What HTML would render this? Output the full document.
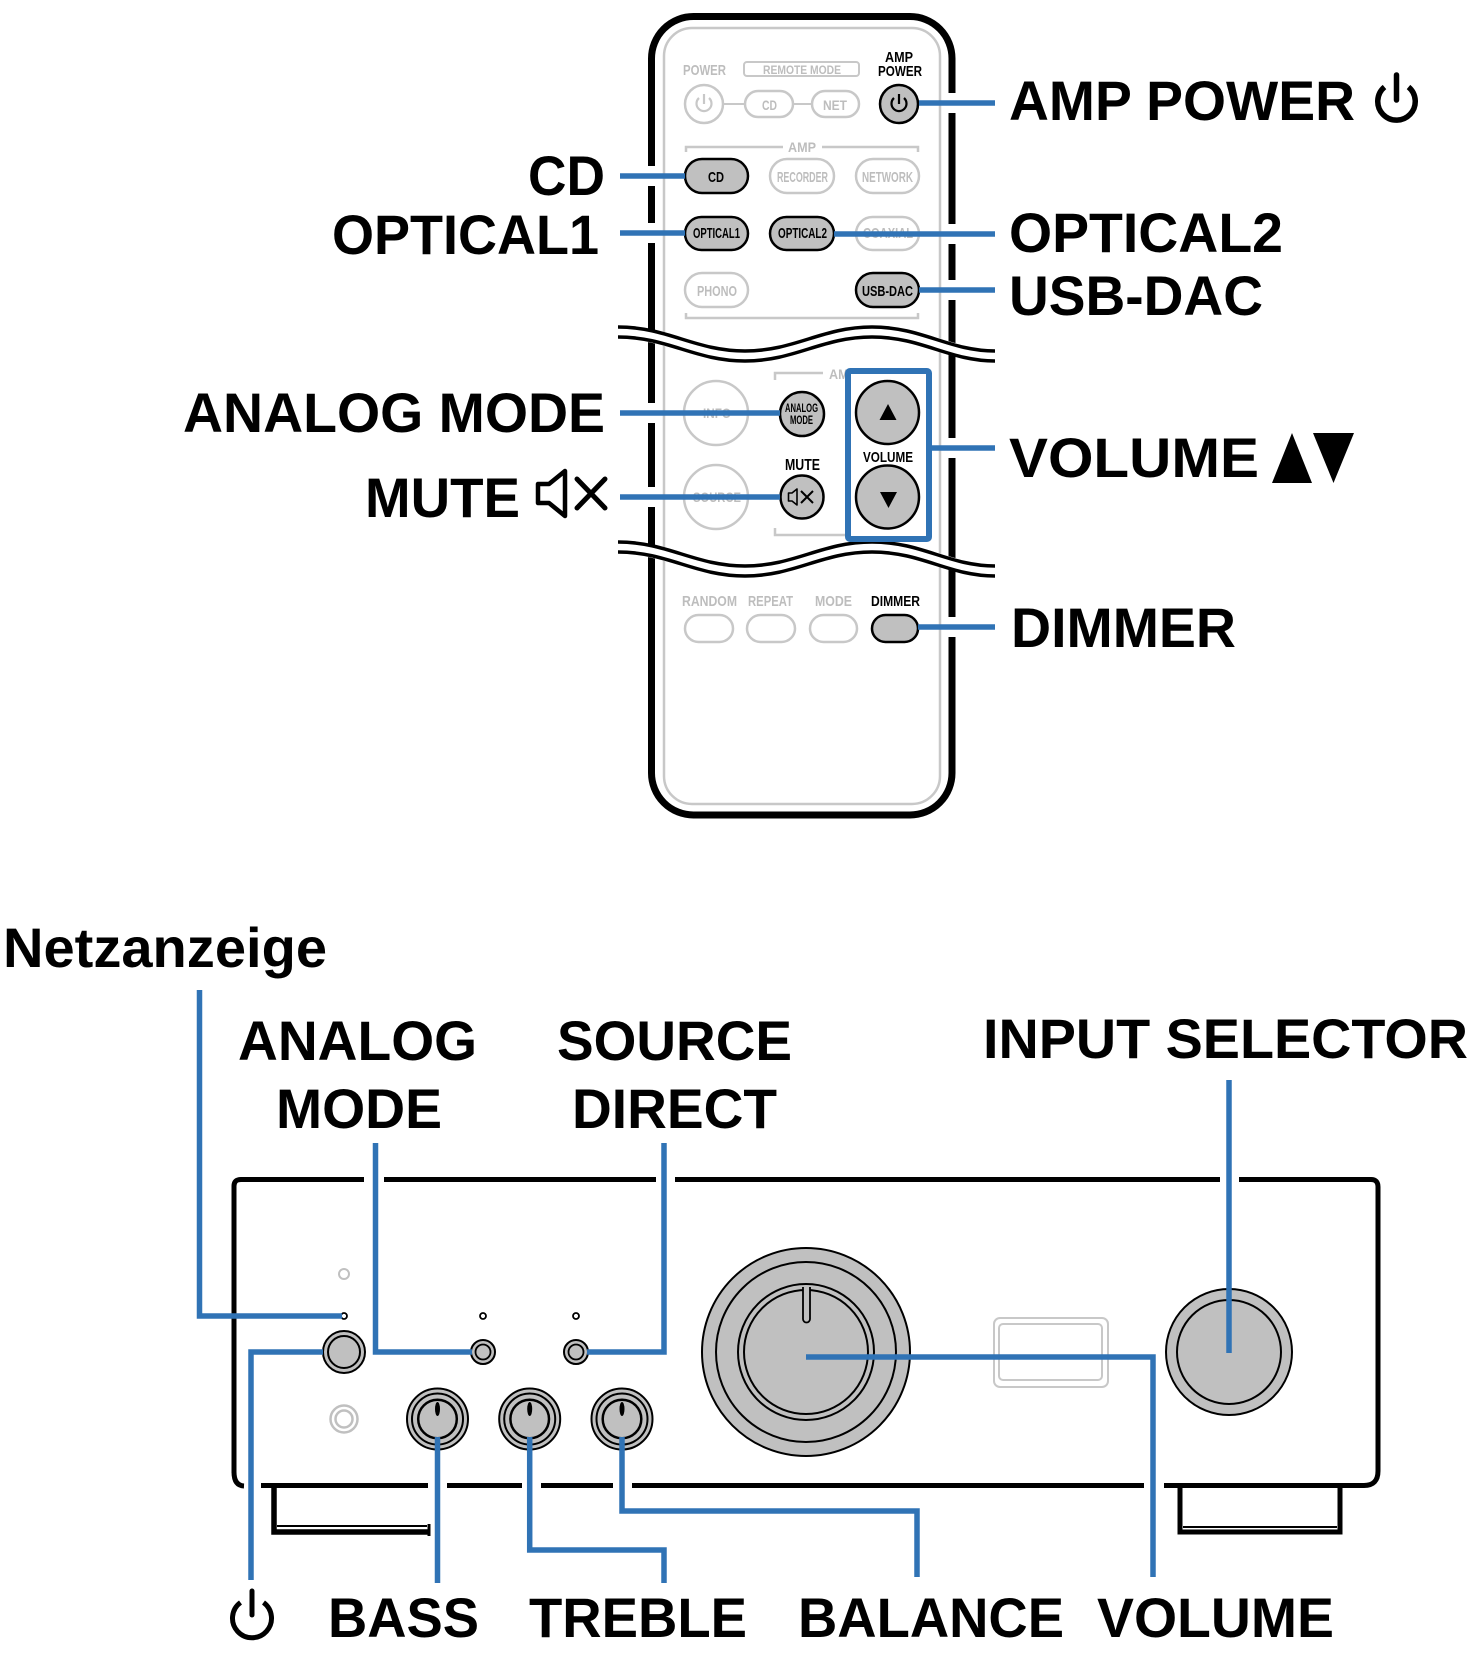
<!DOCTYPE html>
<html>
<head>
<meta charset="utf-8">
<style>
  html,body{margin:0;padding:0;background:#fff;}
  svg{display:block;}
  text{font-family:"Liberation Sans",Arial,sans-serif;font-weight:bold;}
  .big{font-size:56px;fill:#000;}
  .sm{fill:#000;}
  .gr{fill:#bdbdbd;}
</style>
</head>
<body>
<svg width="1471" height="1671" viewBox="0 0 1471 1671" xmlns="http://www.w3.org/2000/svg">
  <rect x="0" y="0" width="1471" height="1671" fill="#fff"/>

  <!-- ================= REMOTE ================= -->
  <rect x="651.5" y="16.5" width="300.5" height="798.5" rx="42" fill="#fff" stroke="#000" stroke-width="7"/>
  <rect x="664" y="28" width="276" height="776" rx="28" fill="none" stroke="#c8c8c8" stroke-width="2.5"/>

  <!-- top row -->
  <text x="683" y="75" class="gr" font-size="15" textLength="43" lengthAdjust="spacingAndGlyphs">POWER</text>
  <rect x="744" y="62" width="115" height="14" rx="3" fill="none" stroke="#c8c8c8" stroke-width="2"/>
  <text x="763" y="74" class="gr" font-size="12" textLength="78" lengthAdjust="spacingAndGlyphs">REMOTE MODE</text>
  <text x="885" y="62" class="sm" font-size="15" textLength="28" lengthAdjust="spacingAndGlyphs">AMP</text>
  <text x="878" y="76" class="sm" font-size="15" textLength="44" lengthAdjust="spacingAndGlyphs">POWER</text>

  <line x1="723" y1="104" x2="745" y2="104" stroke="#c8c8c8" stroke-width="2"/>
  <line x1="793" y1="104" x2="812" y2="104" stroke="#c8c8c8" stroke-width="2"/>
  <circle cx="704" cy="104" r="19" fill="#fff" stroke="#c8c8c8" stroke-width="2.5"/>
  <path d="M699 98 A7.5 7.5 0 1 0 709 98" fill="none" stroke="#c8c8c8" stroke-width="2.2"/>
  <line x1="704" y1="94" x2="704" y2="104" stroke="#c8c8c8" stroke-width="2.2"/>
  <rect x="745" y="91" width="48" height="26" rx="13" fill="#fff" stroke="#c8c8c8" stroke-width="2.5"/>
  <text x="762" y="110" class="gr" font-size="14" textLength="15" lengthAdjust="spacingAndGlyphs">CD</text>
  <rect x="812" y="91" width="47" height="26" rx="13" fill="#fff" stroke="#c8c8c8" stroke-width="2.5"/>
  <text x="823" y="110" class="gr" font-size="14" textLength="24" lengthAdjust="spacingAndGlyphs">NET</text>

  <circle cx="899" cy="104" r="19" fill="#c0c0c0" stroke="#000" stroke-width="2.5"/>
  <path d="M894 98 A7.5 7.5 0 1 0 904 98" fill="none" stroke="#000" stroke-width="2.2"/>
  <line x1="899" y1="94" x2="899" y2="104" stroke="#000" stroke-width="2.2"/>

  <!-- AMP bracket -->
  <path d="M686 152 V147 H783 M822 147 H918 V152" fill="none" stroke="#c8c8c8" stroke-width="2.5"/>
  <text x="788" y="152" class="gr" font-size="14" textLength="28" lengthAdjust="spacingAndGlyphs">AMP</text>

  <!-- row 1 -->
  <rect x="685" y="159" width="63" height="34" rx="17" fill="#c0c0c0" stroke="#000" stroke-width="2.5"/>
  <text x="708" y="182" class="sm" font-size="15" textLength="16" lengthAdjust="spacingAndGlyphs">CD</text>
  <rect x="770" y="159" width="64" height="34" rx="17" fill="#fff" stroke="#c8c8c8" stroke-width="2.5"/>
  <text x="777" y="182" class="gr" font-size="15" textLength="51" lengthAdjust="spacingAndGlyphs">RECORDER</text>
  <rect x="856" y="159" width="63" height="34" rx="17" fill="#fff" stroke="#c8c8c8" stroke-width="2.5"/>
  <text x="862" y="182" class="gr" font-size="15" textLength="51" lengthAdjust="spacingAndGlyphs">NETWORK</text>

  <!-- row 2 -->
  <rect x="685" y="217" width="63" height="33" rx="16.5" fill="#c0c0c0" stroke="#000" stroke-width="2.5"/>
  <text x="693" y="238" class="sm" font-size="15" textLength="47" lengthAdjust="spacingAndGlyphs">OPTICAL1</text>
  <rect x="770" y="217" width="64" height="33" rx="16.5" fill="#c0c0c0" stroke="#000" stroke-width="2.5"/>
  <text x="778" y="238" class="sm" font-size="15" textLength="49" lengthAdjust="spacingAndGlyphs">OPTICAL2</text>
  <rect x="856" y="217" width="63" height="33" rx="16.5" fill="#fff" stroke="#c8c8c8" stroke-width="2.5"/>
  <text x="863" y="238" class="gr" font-size="15" textLength="50" lengthAdjust="spacingAndGlyphs">COAXIAL</text>

  <!-- row 3 -->
  <rect x="685" y="273" width="63" height="34" rx="17" fill="#fff" stroke="#c8c8c8" stroke-width="2.5"/>
  <text x="697" y="296" class="gr" font-size="15" textLength="40" lengthAdjust="spacingAndGlyphs">PHONO</text>
  <rect x="856" y="273" width="63" height="34" rx="17" fill="#c0c0c0" stroke="#000" stroke-width="2.5"/>
  <text x="862" y="296" class="sm" font-size="15" textLength="51" lengthAdjust="spacingAndGlyphs">USB-DAC</text>

  <path d="M686 313 V318 H918 V313" fill="none" stroke="#c8c8c8" stroke-width="2.5"/>

  <!-- middle section -->
  <path d="M775 380 V373 H823" fill="none" stroke="#c8c8c8" stroke-width="2.5"/>
  <text x="829" y="379" class="gr" font-size="14" textLength="28" lengthAdjust="spacingAndGlyphs">AMP</text>
  <path d="M775 528 V535 H845" fill="none" stroke="#c8c8c8" stroke-width="2.5"/>

  <circle cx="716" cy="413" r="32" fill="#fff" stroke="#c8c8c8" stroke-width="2.5"/>
  <text x="703" y="418" class="gr" font-size="14" textLength="28" lengthAdjust="spacingAndGlyphs">INFO</text>
  <circle cx="716" cy="497" r="32" fill="#fff" stroke="#c8c8c8" stroke-width="2.5"/>
  <text x="693" y="502" class="gr" font-size="14" textLength="48" lengthAdjust="spacingAndGlyphs">SOURCE</text>

  <circle cx="802" cy="414" r="22" fill="#c0c0c0" stroke="#000" stroke-width="2.5"/>
  <text x="785" y="412" class="sm" font-size="12" textLength="33" lengthAdjust="spacingAndGlyphs">ANALOG</text>
  <text x="790" y="424" class="sm" font-size="12" textLength="23" lengthAdjust="spacingAndGlyphs">MODE</text>

  <text x="785" y="470" class="sm" font-size="16" textLength="35" lengthAdjust="spacingAndGlyphs">MUTE</text>
  <circle cx="802" cy="497" r="21.5" fill="#c0c0c0" stroke="#000" stroke-width="2.5"/>
  <path d="M788.5 493 H792 L797 489 V505 L792 501 H788.5 Z" fill="none" stroke="#000" stroke-width="1.6" stroke-linejoin="round"/>
  <path d="M801 491 L813 503 M813 491 L801 503" stroke="#000" stroke-width="2"/>

  <!-- volume area (white interior) -->
  <rect x="848" y="371" width="81" height="168" fill="#fff"/>
  <circle cx="887.5" cy="412.5" r="31.5" fill="#c0c0c0" stroke="#000" stroke-width="2.5"/>
  <polygon points="879.5,420 888,404 896.5,420" fill="#000"/>
  <text x="863" y="462" class="sm" font-size="15" textLength="50" lengthAdjust="spacingAndGlyphs">VOLUME</text>
  <circle cx="887.5" cy="497" r="31.5" fill="#c0c0c0" stroke="#000" stroke-width="2.5"/>
  <polygon points="880,492 897,492 888.5,508" fill="#000"/>

  <!-- bottom section -->
  <text x="682" y="606" class="gr" font-size="15" textLength="55" lengthAdjust="spacingAndGlyphs">RANDOM</text>
  <text x="748" y="606" class="gr" font-size="15" textLength="45" lengthAdjust="spacingAndGlyphs">REPEAT</text>
  <text x="815" y="606" class="gr" font-size="15" textLength="37" lengthAdjust="spacingAndGlyphs">MODE</text>
  <text x="871" y="606" class="sm" font-size="15" textLength="49" lengthAdjust="spacingAndGlyphs">DIMMER</text>
  <rect x="685" y="615" width="48" height="27" rx="13.5" fill="#fff" stroke="#c8c8c8" stroke-width="2.5"/>
  <rect x="747" y="615" width="48" height="27" rx="13.5" fill="#fff" stroke="#c8c8c8" stroke-width="2.5"/>
  <rect x="810" y="615" width="47" height="27" rx="13.5" fill="#fff" stroke="#c8c8c8" stroke-width="2.5"/>
  <rect x="872" y="615" width="46" height="27" rx="13.5" fill="#c0c0c0" stroke="#000" stroke-width="2.5"/>

  <!-- waves -->
  <g fill="none">
    <path d="M612 332 C668 332 695 356 745 356 C795 356 822 332 872 332 C922 332 949 356 999 356" stroke="#fff" stroke-width="13"/>
    <path d="M618 327 C668 327 695 351 745 351 C795 351 822 327 872 327 C922 327 949 351 995 351" stroke="#000" stroke-width="3.5"/>
    <path d="M618 337 C668 337 695 361 745 361 C795 361 822 337 872 337 C922 337 949 361 995 361" stroke="#000" stroke-width="3.5"/>

    <path d="M612 547 C668 547 695 571 745 571 C795 571 822 547 872 547 C922 547 949 571 999 571" stroke="#fff" stroke-width="13"/>
    <path d="M618 542 C668 542 695 566 745 566 C795 566 822 542 872 542 C922 542 949 566 995 566" stroke="#000" stroke-width="3.5"/>
    <path d="M618 552 C668 552 695 576 745 576 C795 576 822 552 872 552 C922 552 949 576 995 576" stroke="#000" stroke-width="3.5"/>
  </g>

  <!-- white gaps on remote border where leaders cross -->
  <g fill="#fff">
    <rect x="646" y="166" width="12" height="20"/>
    <rect x="646" y="223" width="12" height="20"/>
    <rect x="646" y="403" width="12" height="20"/>
    <rect x="646" y="487" width="12" height="20"/>
    <rect x="946" y="93" width="12" height="20"/>
    <rect x="946" y="224" width="12" height="20"/>
    <rect x="946" y="280" width="12" height="20"/>
    <rect x="946" y="438" width="12" height="20"/>
    <rect x="946" y="617" width="12" height="20"/>
  </g>

  <!-- remote blue leaders -->
  <g stroke="#3073b5" stroke-width="5.5" fill="none">
    <line x1="919" y1="103" x2="995" y2="103"/>
    <line x1="620" y1="176" x2="685" y2="176"/>
    <line x1="620" y1="233" x2="685" y2="233"/>
    <line x1="834" y1="234" x2="995" y2="234"/>
    <line x1="919" y1="290" x2="995" y2="290"/>
    <line x1="620" y1="413" x2="780" y2="413"/>
    <line x1="620" y1="497" x2="780" y2="497"/>
    <rect x="848" y="371" width="81" height="168" rx="2" stroke-width="6"/>
    <line x1="932" y1="448" x2="995" y2="448"/>
    <line x1="918" y1="627" x2="995" y2="627"/>
  </g>

  <!-- remote labels -->
  <text x="1009" y="120" class="big" font-size="55" textLength="346" lengthAdjust="spacingAndGlyphs">AMP POWER</text>
  <path d="M1384.5 87 A18.75 18.75 0 1 0 1408.5 87" fill="none" stroke="#000" stroke-width="5.5"/>
  <line x1="1396.5" y1="75" x2="1396.5" y2="100" stroke="#000" stroke-width="5.5" stroke-linecap="round"/>
  <text x="1009" y="252" class="big" font-size="55" textLength="274" lengthAdjust="spacingAndGlyphs">OPTICAL2</text>
  <text x="1009" y="315" class="big" font-size="55" textLength="254" lengthAdjust="spacingAndGlyphs">USB-DAC</text>
  <text x="1009" y="477" class="big" font-size="59" textLength="250" lengthAdjust="spacingAndGlyphs">VOLUME</text>
  <polygon points="1272,483 1292,433 1312,483" fill="#000"/>
  <polygon points="1313,433 1354,433 1333.5,483" fill="#000"/>
  <text x="1011" y="647" class="big" font-size="55" textLength="225" lengthAdjust="spacingAndGlyphs">DIMMER</text>

  <text x="528" y="195" class="big" font-size="56" textLength="77" lengthAdjust="spacingAndGlyphs">CD</text>
  <text x="332" y="254" class="big" font-size="57" textLength="267" lengthAdjust="spacingAndGlyphs">OPTICAL1</text>
  <text x="183" y="432" class="big" font-size="57" textLength="422" lengthAdjust="spacingAndGlyphs">ANALOG MODE</text>
  <text x="365" y="517" class="big" font-size="55" textLength="155" lengthAdjust="spacingAndGlyphs">MUTE</text>
  <path d="M538 484 H549 L565 471 V516 L549 503 H538 Z" fill="none" stroke="#000" stroke-width="4.5" stroke-linejoin="round"/>
  <path d="M577 479 L605 508 M605 479 L577 508" stroke="#000" stroke-width="5" stroke-linecap="round"/>

  <!-- ================= AMPLIFIER ================= -->
  <g fill="none" stroke="#000" stroke-width="5">
    <path d="M234 1473 V1186 Q234 1179.5 241 1179.5 H1371 Q1378 1179.5 1378 1187 V1471 Q1378 1485.5 1364 1485.5 H261"/>
    <path d="M234 1472 Q234 1485.5 244 1486"/>
    <!-- left foot -->
    <path d="M274 1485 V1532 H429" stroke-width="5.5"/>
    <line x1="277" y1="1526" x2="427" y2="1526" stroke-width="2"/>
    <line x1="429" y1="1524" x2="429" y2="1536" stroke-width="3"/>
    <!-- right foot -->
    <path d="M1180 1485 V1532 H1340 V1485" stroke-width="5"/>
    <line x1="1183" y1="1527" x2="1337" y2="1527" stroke-width="2"/>
  </g>

  <!-- white gaps on amp body where leaders cross -->
  <g fill="#fff">
    <rect x="364" y="1174" width="20" height="11"/>
    <rect x="656" y="1174" width="19" height="11"/>
    <rect x="1220" y="1174" width="19" height="11"/>
    <rect x="428" y="1480" width="19" height="11"/>
    <rect x="522" y="1480" width="19" height="11"/>
    <rect x="613" y="1480" width="19" height="11"/>
    <rect x="1144" y="1480" width="20" height="11"/>
  </g>

  <!-- indicators -->
  <circle cx="344" cy="1274" r="5" fill="#fff" stroke="#c0c0c0" stroke-width="2"/>
  <circle cx="344" cy="1316" r="3" fill="#fff" stroke="#000" stroke-width="1.8"/>
  <circle cx="483" cy="1316" r="3" fill="#fff" stroke="#000" stroke-width="1.8"/>
  <circle cx="576" cy="1316" r="3" fill="#fff" stroke="#000" stroke-width="1.8"/>

  <!-- power button -->
  <circle cx="344" cy="1352" r="21" fill="#c0c0c0" stroke="#000" stroke-width="2"/>
  <circle cx="344" cy="1352" r="16" fill="#c0c0c0" stroke="#000" stroke-width="2"/>
  <!-- small buttons -->
  <circle cx="483" cy="1352" r="12" fill="#c0c0c0" stroke="#000" stroke-width="2"/>
  <circle cx="483" cy="1352" r="7.5" fill="#c0c0c0" stroke="#000" stroke-width="1.8"/>
  <circle cx="576" cy="1352" r="12" fill="#c0c0c0" stroke="#000" stroke-width="2"/>
  <circle cx="576" cy="1352" r="7.5" fill="#c0c0c0" stroke="#000" stroke-width="1.8"/>
  <!-- headphone ring -->
  <circle cx="344" cy="1419" r="13.5" fill="none" stroke="#c0c0c0" stroke-width="2.5"/>
  <circle cx="344" cy="1419" r="8.5" fill="none" stroke="#c0c0c0" stroke-width="2.5"/>

  <!-- small knobs -->
  <g stroke="#000">
    <circle cx="437.5" cy="1419" r="30.5" fill="#c0c0c0" stroke-width="2"/>
    <circle cx="437.5" cy="1419" r="25.5" fill="none" stroke-width="2"/>
    <circle cx="437.5" cy="1419" r="19.3" fill="none" stroke-width="2.5"/>
    <ellipse cx="437.5" cy="1409" rx="2.5" ry="7" fill="#000" stroke="none"/>

    <circle cx="529.7" cy="1419" r="30.5" fill="#c0c0c0" stroke-width="2"/>
    <circle cx="529.7" cy="1419" r="25.5" fill="none" stroke-width="2"/>
    <circle cx="529.7" cy="1419" r="19.3" fill="none" stroke-width="2.5"/>
    <ellipse cx="529.7" cy="1409" rx="2.5" ry="7" fill="#000" stroke="none"/>

    <circle cx="622" cy="1419" r="30.5" fill="#c0c0c0" stroke-width="2"/>
    <circle cx="622" cy="1419" r="25.5" fill="none" stroke-width="2"/>
    <circle cx="622" cy="1419" r="19.3" fill="none" stroke-width="2.5"/>
    <ellipse cx="622" cy="1409" rx="2.5" ry="7" fill="#000" stroke="none"/>

    <!-- big volume knob -->
    <circle cx="806" cy="1352" r="104" fill="#c0c0c0" stroke-width="2"/>
    <circle cx="806" cy="1352" r="90" fill="none" stroke-width="2"/>
    <circle cx="806" cy="1352" r="68" fill="none" stroke-width="2"/>
    <circle cx="806" cy="1352" r="62" fill="none" stroke-width="2"/>
    <path d="M803 1287 V1319 A3.5 3.5 0 0 0 810 1319 V1287" fill="#c0c0c0" stroke-width="1.8"/>

    <!-- input selector knob -->
    <circle cx="1229" cy="1352" r="63" fill="#c0c0c0" stroke-width="2"/>
    <circle cx="1229" cy="1352" r="52" fill="none" stroke-width="2"/>
  </g>

  <!-- display window -->
  <rect x="994" y="1318" width="114" height="69" rx="6" fill="none" stroke="#c8c8c8" stroke-width="2"/>
  <rect x="999" y="1324" width="103" height="56" rx="4" fill="none" stroke="#c8c8c8" stroke-width="2"/>

  <!-- amp blue leaders -->
  <g stroke="#3073b5" stroke-width="5.5" fill="none" stroke-linejoin="miter">
    <path d="M199.5 990 V1316 H342"/>
    <path d="M323 1352 H251 V1580"/>
    <path d="M375.5 1143 V1352 H472"/>
    <path d="M587 1352 H664 V1143"/>
    <path d="M437.5 1437 V1583"/>
    <path d="M529.7 1437 V1550 H664 V1583"/>
    <path d="M622 1437 V1511 H917 V1577"/>
    <path d="M806 1357 H1153 V1577"/>
    <path d="M1229 1080 V1353"/>
  </g>

  <!-- amp labels -->
  <text x="3" y="967" class="big" font-size="55" textLength="324" lengthAdjust="spacingAndGlyphs">Netzanzeige</text>
  <text x="238" y="1060" class="big" font-size="55" textLength="239" lengthAdjust="spacingAndGlyphs">ANALOG</text>
  <text x="276" y="1128" class="big" font-size="55" textLength="166" lengthAdjust="spacingAndGlyphs">MODE</text>
  <text x="557" y="1060" class="big" font-size="55" textLength="235" lengthAdjust="spacingAndGlyphs">SOURCE</text>
  <text x="572" y="1128" class="big" font-size="55" textLength="205" lengthAdjust="spacingAndGlyphs">DIRECT</text>
  <text x="983" y="1058" class="big" font-size="55" textLength="485" lengthAdjust="spacingAndGlyphs">INPUT SELECTOR</text>

  <path d="M240.5 1602.5 A19.5 19.5 0 1 0 263.5 1602.5" fill="none" stroke="#000" stroke-width="5"/>
  <line x1="252" y1="1591" x2="252" y2="1615" stroke="#000" stroke-width="5" stroke-linecap="round"/>
  <text x="328" y="1637" class="big" font-size="56" textLength="151" lengthAdjust="spacingAndGlyphs">BASS</text>
  <text x="529" y="1637" class="big" font-size="56" textLength="218" lengthAdjust="spacingAndGlyphs">TREBLE</text>
  <text x="798" y="1637" class="big" font-size="56" textLength="266" lengthAdjust="spacingAndGlyphs">BALANCE</text>
  <text x="1097" y="1637" class="big" font-size="56" textLength="237" lengthAdjust="spacingAndGlyphs">VOLUME</text>
</svg>
</body>
</html>
